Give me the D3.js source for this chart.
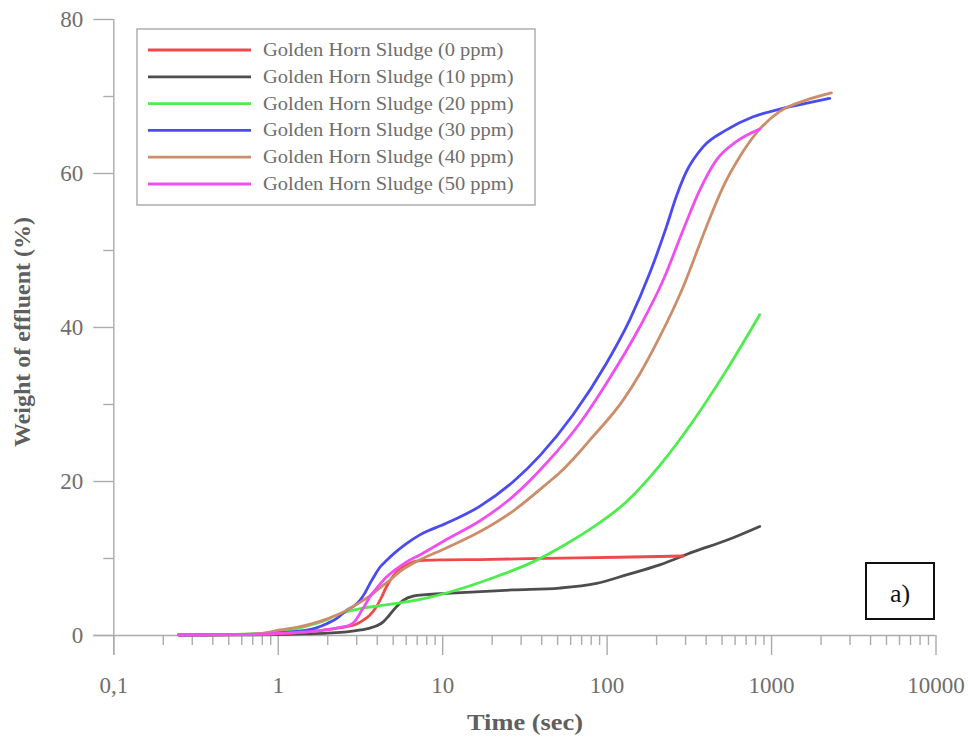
<!DOCTYPE html>
<html>
<head>
<meta charset="utf-8">
<script src="https://cdn.jsdelivr.net/npm/d3@7"></script>
<style>
  html, body { margin: 0; padding: 0; background: #fff; }
  svg { display: block; }
  text { font-family: "Liberation Serif", "Times New Roman", serif; }
</style>
</head>
<body>
<svg id="chart" width="968" height="740"></svg>
<script>
// Sludge dewatering: cumulative effluent weight (%) over time (s), log time axis
const seriesNames = [
  "Golden Horn Sludge (0 ppm)",
  "Golden Horn Sludge (10 ppm)",
  "Golden Horn Sludge (20 ppm)",
  "Golden Horn Sludge (30 ppm)",
  "Golden Horn Sludge (40 ppm)",
  "Golden Horn Sludge (50 ppm)"
];
const seriesColors = ["#ef4a4a", "#4d4d4d", "#4ced4c", "#4b4bf2", "#cc8e6a", "#f04ef0"];

const time0 = [0.25, 0.5, 1, 1.5, 2, 2.62, 3.0, 3.3, 3.6, 3.99, 4.3, 4.59, 5.18, 6.08, 7.31, 10, 16.9, 43, 120, 292];
const weight0 = [0, 0.03, 0.15, 0.4, 0.7, 1.1, 1.4, 1.9, 2.5, 3.7, 5.0, 6.3, 8.0, 9.1, 9.65, 9.75, 9.8, 9.95, 10.1, 10.26];

const time10 = [0.25, 0.5, 1, 1.5, 2, 2.62, 3.2, 3.64, 4.0, 4.38, 4.7, 5.04, 5.79, 6.66, 8, 10.6, 27, 51.9, 86.9, 132, 210, 336, 536, 853];
const weight10 = [0, 0.01, 0.05, 0.15, 0.25, 0.4, 0.65, 0.9, 1.2, 1.7, 2.4, 3.2, 4.5, 5.05, 5.25, 5.4, 5.85, 6.1, 6.7, 7.8, 9.1, 10.8, 12.3, 14.1];

const time20 = [0.25, 0.5, 0.8, 1, 1.3, 1.64, 2.0, 2.17, 2.6, 3.3, 4.2, 5.28, 8.4, 13.4, 21.4, 34.1, 54.5, 82.8, 132, 210, 336, 536, 853];
const weight20 = [0, 0.05, 0.2, 0.35, 0.8, 1.4, 2.0, 2.4, 3.0, 3.5, 3.8, 4.1, 4.9, 6.1, 7.6, 9.3, 11.6, 14.0, 17.3, 22.0, 27.8, 34.4, 41.6];

const time30 = [0.25, 0.5, 0.8, 1, 1.36, 1.7, 2.0, 2.3, 2.62, 3.0, 3.16, 3.4, 3.64, 3.9, 4.18, 4.6, 5.04, 6, 7.31, 10.6, 16.9, 27, 39.3, 62.5, 99.8, 138, 183, 231, 266, 306, 386, 536, 778, 1130, 1600, 2275];
const weight30 = [0, 0.05, 0.15, 0.3, 0.5, 0.9, 1.5, 2.2, 3.2, 4.0, 4.5, 5.5, 6.7, 7.8, 8.8, 9.7, 10.5, 11.8, 13.0, 14.5, 16.7, 19.9, 23.3, 28.6, 35.3, 40.9, 47.0, 53.0, 57.0, 60.2, 63.4, 65.6, 67.3, 68.3, 69.0, 69.7];

const time40 = [0.25, 0.5, 0.8, 1.03, 1.3, 1.64, 2.0, 2.3, 2.62, 3.2, 3.81, 4.4, 4.8, 5.5, 6.66, 10.6, 16.9, 27, 43, 52, 68.7, 79, 126, 160, 201, 292, 404, 511, 645, 815, 1130, 1600, 2330];
const weight40 = [0, 0.05, 0.2, 0.65, 1.0, 1.5, 2.1, 2.6, 3.2, 4.3, 5.4, 6.5, 7.1, 8.2, 9.3, 11.3, 13.4, 16.1, 19.6, 21.1, 23.8, 25.3, 30.5, 34.0, 37.9, 45.2, 53.0, 58.2, 62.1, 65.2, 68.0, 69.4, 70.4];

const time50 = [0.25, 0.5, 0.8, 1, 1.5, 2, 2.4, 2.75, 3.0, 3.16, 3.4, 3.64, 4.0, 4.38, 5.28, 6.08, 7.31, 10.6, 16.9, 27, 43, 68.7, 99.8, 159, 221, 292, 369, 466, 617, 853];
const weight50 = [0, 0.05, 0.1, 0.2, 0.4, 0.7, 1.0, 1.3, 2.0, 2.8, 3.9, 5.0, 6.1, 7.1, 8.6, 9.5, 10.4, 12.4, 14.8, 18.0, 22.3, 27.5, 32.7, 40.0, 46.1, 52.6, 57.8, 61.7, 64.1, 65.7];

const xTickValues = [0.1, 1, 10, 100, 1000, 10000];
const xTickLabels = ["0,1", "1", "10", "100", "1000", "10000"];
const yTickValues = [0, 20, 40, 60, 80];
const yMinorValues = [10, 30, 50, 70];

const seriesTimes = [time0, time10, time20, time30, time40, time50];
const seriesWeights = [weight0, weight10, weight20, weight30, weight40, weight50];
// drawing order (later on top)
const drawOrder = [1, 0, 2, 3, 4, 5];

const svg = d3.select("#chart");
const plot = { left: 113.3, right: 935.5, top: 19, bottom: 635 };
const axisColor = "#ababab";
const labelColor = "#6e6e6e";

const x = d3.scaleLog().domain([0.1, 10000]).range([plot.left, plot.right]);
const y = d3.scaleLinear().domain([0, 80]).range([plot.bottom, plot.top]);

// minor x ticks: 2..9 within each decade
const xMinor = [];
for (let d = 0.1; d < 10000; d *= 10) {
  for (let k = 2; k <= 9; k++) xMinor.push(+(d * k).toPrecision(3));
}

// X axis
const xAxisMajor = d3.axisBottom(x).tickValues(xTickValues).tickSize(20)
  .tickFormat((d, i) => xTickLabels[i]).tickPadding(22);
const gx = svg.append("g").attr("transform", `translate(0,${plot.bottom})`).call(xAxisMajor);
const gxMinor = svg.append("g").attr("transform", `translate(0,${plot.bottom})`)
  .call(d3.axisBottom(x).tickValues(xMinor).tickSize(10).tickFormat(""));
gxMinor.select(".domain").remove();
gx.select(".domain").attr("d", `M${plot.left - 20},0.5H${plot.right}`);

// Y axis
const yAxisMajor = d3.axisLeft(y).tickValues(yTickValues).tickSize(20).tickPadding(10);
const gy = svg.append("g").attr("transform", `translate(${plot.left},0)`).call(yAxisMajor);
const gyMinor = svg.append("g").attr("transform", `translate(${plot.left},0)`)
  .call(d3.axisLeft(y).tickValues(yMinorValues).tickSize(10).tickFormat(""));
gyMinor.select(".domain").remove();
gy.select(".domain").attr("d", `M0.5,${plot.top}V${plot.bottom + 20}`);

[gx, gxMinor, gy, gyMinor].forEach(g => {
  g.selectAll("line").attr("stroke", axisColor).attr("stroke-width", 1.4);
  g.selectAll(".domain").attr("stroke", axisColor).attr("stroke-width", 1.4);
  g.selectAll("text").attr("fill", labelColor).style("font-size", "23px")
    .style("font-family", "'Liberation Serif', serif");
});

// Axis titles
svg.append("text")
  .attr("transform", "translate(525,730) scale(1.1,1)")
  .attr("text-anchor", "middle")
  .attr("fill", "#5f5f5f").style("font-size", "24px").style("font-weight", "bold")
  .text("Time (sec)");
svg.append("text")
  .attr("transform", "translate(30,332) rotate(-90)")
  .attr("text-anchor", "middle")
  .attr("fill", "#5f5f5f").style("font-size", "24px").style("font-weight", "bold")
  .text("Weight of effluent (%)");

// Curves
const line = d3.line().x(d => x(d[0])).y(d => y(d[1])).curve(d3.curveMonotoneX);
drawOrder.forEach(i => {
  const pts = seriesTimes[i].map((t, j) => [t, seriesWeights[i][j]]);
  svg.append("path")
    .datum(pts)
    .attr("d", line)
    .attr("fill", "none")
    .attr("stroke", seriesColors[i])
    .attr("stroke-width", 2.8)
    .attr("stroke-linejoin", "round")
    .attr("stroke-linecap", "round");
});

// Legend
const legend = svg.append("g");
legend.append("rect")
  .attr("x", 137).attr("y", 29).attr("width", 398).attr("height", 176)
  .attr("fill", "#fff").attr("stroke", "#a9a9a9").attr("stroke-width", 1.4);
seriesNames.forEach((name, i) => {
  const ry = 50 + i * 26.8;
  legend.append("line")
    .attr("x1", 148).attr("x2", 251).attr("y1", ry).attr("y2", ry)
    .attr("stroke", seriesColors[i]).attr("stroke-width", 2.8);
  legend.append("text")
    .attr("transform", `translate(263,${ry + 6}) scale(1.08,1)`)
    .attr("fill", labelColor).style("font-size", "19px")
    .text(name);
});

// Panel tag
svg.append("rect")
  .attr("x", 866).attr("y", 563).attr("width", 68).attr("height", 56)
  .attr("fill", "#fff").attr("stroke", "#111").attr("stroke-width", 2);
svg.append("text")
  .attr("x", 900).attr("y", 602)
  .attr("text-anchor", "middle")
  .attr("fill", "#111").style("font-size", "26px")
  .text("a)");
</script>
</body>
</html>
